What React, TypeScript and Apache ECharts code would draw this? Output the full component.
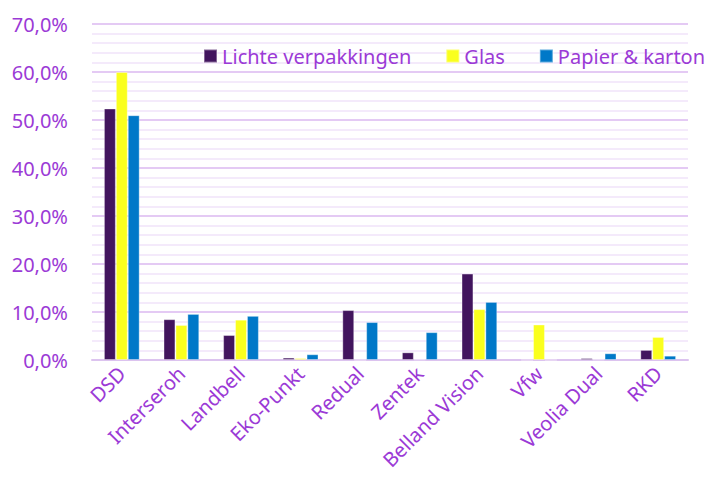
import React, { useEffect, useRef } from "react";
import * as echarts from "echarts";

const categories = ["DSD", "Interseroh", "Landbell", "Eko-Punkt", "Redual", "Zentek", "Belland Vision", "Vfw", "Veolia Dual", "RKD"];
const lichteVerpakkingen = [52.4, 8.5, 5.2, 0.5, 10.4, 1.6, 18.0, 0, 0.4, 2.1];
const glas = [60.0, 7.3, 8.4, 0.4, 0, 0.1, 10.6, 7.4, 0.1, 4.8];
const papierKarton = [51.0, 9.6, 9.2, 1.2, 7.9, 5.8, 12.1, 0, 1.4, 0.9];
const yTicks = { min: 0, max: 70, interval: 10 };

const textColor = "#9b3ad6";
const font = "Noto Sans";

export default function App() {
  const ref = useRef<HTMLDivElement>(null);
  useEffect(() => {
    const chart = echarts.init(ref.current!, null, { renderer: "svg" });
    const mk = (name: string, data: number[], color: string) => ({
      name,
      type: "bar",
      data,
      barGap: "0%",
      barCategoryGap: "40%",
      itemStyle: { color, borderColor: "rgba(255,255,255,0.35)", borderWidth: 1 },
    });
    chart.setOption({
      animation: false,
      textStyle: { fontFamily: font },
      grid: { left: 92, right: 24, top: 24, bottom: 131 },
      legend: {
        top: 41,
        left: 198,
        itemWidth: 13,
        itemHeight: 13,
        itemGap: 34,
        icon: "rect",
        textStyle: { color: textColor, fontSize: 20, fontFamily: font },
        data: ["Lichte verpakkingen", "Glas", "Papier & karton"],
      },
      xAxis: {
        type: "category",
        data: categories,
        axisLine: { lineStyle: { color: "#dcc3ef", width: 2 } },
        axisTick: { show: false },
        axisLabel: { rotate: 45, color: textColor, fontSize: 20, fontFamily: font, margin: 10, interval: 0 },
      },
      yAxis: {
        type: "value",
        min: yTicks.min,
        max: yTicks.max,
        interval: yTicks.interval,
        axisLine: { show: false },
        axisTick: { show: false },
        axisLabel: {
          color: textColor,
          fontSize: 20,
          fontFamily: font,
          margin: 24,
          formatter: (v: number) => v.toFixed(1).replace(".", ",") + "%",
        },
        splitLine: { lineStyle: { color: "#e4caf4", width: 2 } },
        minorTick: { show: false, splitNumber: 5 },
        minorSplitLine: { show: true, lineStyle: { color: "#f4eafb", width: 2 } },
      },
      series: [
        mk("Lichte verpakkingen", lichteVerpakkingen, "#42155e"),
        mk("Glas", glas, "#faff1e"),
        mk("Papier & karton", papierKarton, "#0078c8"),
      ],
    });
    return () => chart.dispose();
  }, []);
  return <div ref={ref} style={{ width: 712, height: 491, position: "absolute", left: 0, top: 0 }} />;
}
